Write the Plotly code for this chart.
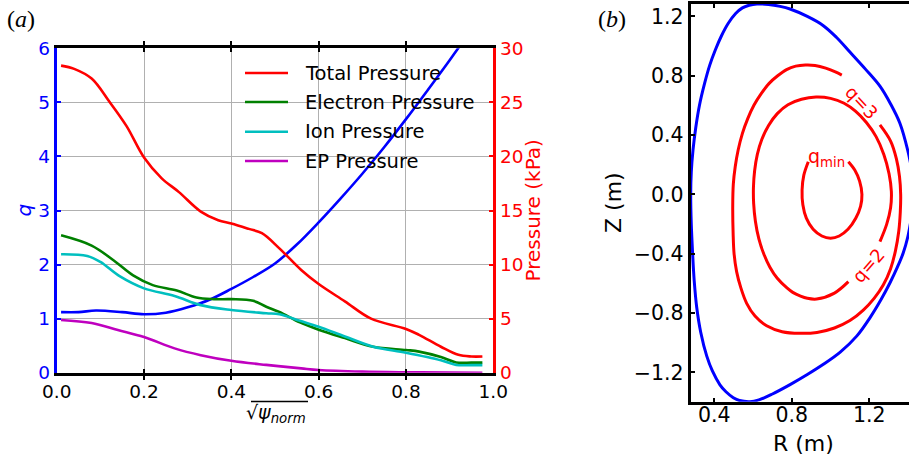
import plotly.graph_objects as go

# ---------------- Panel (a) data ----------------
rho_q = [0.01, 0.05, 0.09, 0.15, 0.20, 0.25, 0.30, 0.35, 0.40, 0.45, 0.50,
         0.55, 0.60, 0.65, 0.70, 0.75, 0.80, 0.85, 0.90, 0.95]
q_vals = [1.12, 1.12, 1.15, 1.12, 1.08, 1.11, 1.21, 1.35, 1.55, 1.77, 2.02,
          2.37, 2.78, 3.22, 3.68, 4.17, 4.69, 5.23, 5.78, 6.35]

rho_tot = [0.01, 0.04, 0.08, 0.12, 0.16, 0.20, 0.24, 0.28, 0.33, 0.37, 0.40,
           0.44, 0.47, 0.51, 0.56, 0.60, 0.66, 0.72, 0.80, 0.83, 0.88, 0.92,
           0.95, 0.975]
p_tot = [28.4, 28.1, 27.2, 25.1, 22.8, 19.9, 18.0, 16.7, 14.9, 14.1, 13.8,
         13.3, 12.9, 11.5, 9.5, 8.2, 6.6, 5.0, 4.05, 3.5, 2.4, 1.65, 1.5, 1.5]

rho_e = [0.01, 0.08, 0.13, 0.175, 0.22, 0.275, 0.32, 0.36, 0.40, 0.45, 0.48,
         0.51, 0.557, 0.60, 0.66, 0.725, 0.80, 0.83, 0.88, 0.915, 0.95, 0.975]
p_e = [12.7, 11.75, 10.4, 9.0, 8.1, 7.6, 6.95, 6.8, 6.8, 6.65, 6.1,
       5.62, 4.65, 3.98, 3.2, 2.4, 2.1, 1.95, 1.45, 0.95, 0.93, 0.93]

rho_i = [0.01, 0.07, 0.10, 0.145, 0.20, 0.27, 0.33, 0.40, 0.48, 0.51, 0.557,
         0.60, 0.66, 0.725, 0.80, 0.88, 0.915, 0.95, 0.975]
p_i = [10.95, 10.8, 10.25, 8.9, 7.8, 7.1, 6.25, 5.8, 5.5, 5.4, 4.8,
       4.25, 3.35, 2.4, 1.85, 1.15, 0.72, 0.7, 0.7]

rho_ep = [0.01, 0.08, 0.14, 0.20, 0.27, 0.33, 0.40, 0.48, 0.56, 0.60, 0.70,
          0.80, 0.90, 0.975]
p_ep = [4.88, 4.6, 3.95, 3.3, 2.25, 1.62, 1.1, 0.72, 0.4, 0.25, 0.1,
        0.04, 0.01, 0.0]

series_names = ["Total Pressure", "Electron Pressure", "Ion Pressure", "EP Pressure"]
series_colors = ["#ff0000", "#008000", "#00bfbf", "#bf00bf"]

x_ticks = [0.0, 0.2, 0.4, 0.6, 0.8, 1.0]
x_ticktext = ["0.0", "0.2", "0.4", "0.6", "0.8", "1.0"]
q_ticks = [0, 1, 2, 3, 4, 5, 6]
p_ticks = [0, 5, 10, 15, 20, 25, 30]

# ---------------- Panel (b) data ----------------
R_lcfs = [1.437, 1.418, 1.398, 1.375, 1.345, 1.307, 1.260, 1.204, 1.135, 1.050,
          0.963, 0.880, 0.791, 0.700, 0.630, 0.584, 0.530, 0.498, 0.460, 0.429,
          0.390, 0.361, 0.330, 0.309, 0.296, 0.288, 0.281, 0.278, 0.281, 0.290,
          0.304, 0.323, 0.350, 0.376, 0.405, 0.437, 0.472, 0.510, 0.545, 0.580,
          0.620, 0.680, 0.740, 0.791, 0.880, 0.963, 1.030, 1.100, 1.180, 1.255,
          1.310, 1.358, 1.398, 1.420, 1.437]
Z_lcfs = [0.02, -0.15, -0.29, -0.395, -0.49, -0.595, -0.71, -0.83, -0.955, -1.063,
          -1.145, -1.214, -1.282, -1.345, -1.385, -1.397, -1.389, -1.37, -1.33, -1.283,
          -1.19, -1.09, -0.93, -0.76, -0.58, -0.40, -0.20, 0.0, 0.15, 0.30,
          0.45, 0.60, 0.75, 0.87, 0.974, 1.07, 1.154, 1.22, 1.258, 1.276,
          1.284, 1.281, 1.268, 1.25, 1.20, 1.138, 1.06, 0.96, 0.845, 0.73,
          0.61, 0.48, 0.30, 0.16, 0.02]

R_q3 = [1.255, 1.310, 1.340, 1.356, 1.362, 1.360, 1.352, 1.335, 1.310, 1.272,
        1.225, 1.169, 1.100, 1.020, 0.930, 0.842, 0.750, 0.670, 0.610, 0.567,
        0.537, 0.515, 0.502, 0.497, 0.495, 0.498, 0.508, 0.523, 0.545, 0.572,
        0.605, 0.642, 0.683, 0.727, 0.773, 0.820, 0.870, 0.920, 0.975, 1.025, 1.058]
Z_q3 = [0.469, 0.360, 0.240, 0.120, 0.000, -0.120, -0.250, -0.380, -0.500, -0.610,
        -0.700, -0.779, -0.850, -0.900, -0.930, -0.936, -0.925, -0.885, -0.820, -0.734,
        -0.630, -0.520, -0.400, -0.260, -0.080, 0.070, 0.189, 0.300, 0.412, 0.510,
        0.603, 0.680, 0.749, 0.800, 0.842, 0.865, 0.873, 0.870, 0.852, 0.826, 0.805]

R_q2 = [1.092, 1.020, 0.928, 0.880, 0.845, 0.805, 0.775, 0.725, 0.687, 0.655,
        0.630, 0.612, 0.603, 0.602, 0.608, 0.622, 0.645, 0.680, 0.725, 0.780,
        0.850, 0.925, 1.000, 1.070, 1.130, 1.185, 1.235, 1.275, 1.302, 1.314,
        1.310, 1.290, 1.255]
Z_q2 = [-0.588, -0.665, -0.705, -0.700, -0.685, -0.660, -0.630, -0.565, -0.490, -0.400,
        -0.300, -0.180, -0.060, 0.050, 0.160, 0.270, 0.370, 0.465, 0.545, 0.605,
        0.642, 0.657, 0.648, 0.615, 0.560, 0.485, 0.390, 0.270, 0.140, 0.020,
        -0.090, -0.200, -0.318]

R_qmin = [1.092, 1.125, 1.150, 1.162, 1.155, 1.130, 1.090, 1.045, 1.000, 0.955,
          0.910, 0.875, 0.857, 0.853, 0.862, 0.885]
Z_qmin = [0.221, 0.165, 0.090, 0.000, -0.080, -0.160, -0.235, -0.280, -0.295, -0.280,
          -0.235, -0.160, -0.070, 0.030, 0.130, 0.221]

R_ticks = [0.4, 0.8, 1.2]
R_ticktext = ["0.4", "0.8", "1.2"]
Z_ticks = [-1.2, -0.8, -0.4, 0.0, 0.4, 0.8, 1.2]
Z_ticktext = ["\u22121.2", "\u22120.8", "\u22120.4", "0.0", "0.4", "0.8", "1.2"]

# ---------------- helpers (pixel -> paper) ----------------
W, H = 909, 456
def px(x):
    return x / W
def py(y):
    return 1 - y / H

fig = go.Figure()

fig.add_trace(go.Scatter(x=rho_q, y=q_vals, mode="lines", name="q",
                         line=dict(color="#0000ff", width=2.6, shape="spline"),
                         xaxis="x", yaxis="y"))
for xs, ys, nm, col in [(rho_tot, p_tot, series_names[0], series_colors[0]),
                        (rho_e, p_e, series_names[1], series_colors[1]),
                        (rho_i, p_i, series_names[2], series_colors[2]),
                        (rho_ep, p_ep, series_names[3], series_colors[3])]:
    fig.add_trace(go.Scatter(x=xs, y=ys, mode="lines", name=nm,
                             line=dict(color=col, width=2.6, shape="spline"),
                             xaxis="x", yaxis="y2"))

for Rs, Zs, nm, col in [(R_q3, Z_q3, "q=3", "#ff0000"),
                        (R_q2, Z_q2, "q=2", "#ff0000"),
                        (R_qmin, Z_qmin, "q_min", "#ff0000"),
                        (R_lcfs, Z_lcfs, "LCFS", "#0000ff")]:
    fig.add_trace(go.Scatter(x=Rs, y=Zs, mode="lines", name=nm,
                             line=dict(color=col, width=3, shape="spline", smoothing=1.0),
                             xaxis="x2", yaxis="y3"))

tick_font_a = dict(family="DejaVu Sans", size=18.5)
tick_font_b = dict(family="DejaVu Sans", size=20.5, color="black")

fig.update_layout(
    width=W, height=H, margin=dict(l=0, r=0, t=0, b=0, autoexpand=False),
    paper_bgcolor="white", plot_bgcolor="white", showlegend=False,
    font=dict(family="DejaVu Sans", color="black"),
    xaxis=dict(domain=[px(56.7), px(493.3)], range=[0, 1], anchor="y", automargin=False,
               tickvals=x_ticks, ticktext=x_ticktext, showgrid=True,
               gridcolor="#b0b0b0", gridwidth=1, zeroline=False,
               showline=True, linecolor="black", linewidth=3, mirror="allticks",
               ticks="inside", ticklen=4, tickwidth=2, tickcolor="black",
               ticklabelstandoff=0,
               tickfont=dict(tick_font_a, color="black")),
    yaxis=dict(domain=[py(372.7), py(48.3)], range=[0, 6], anchor="x", automargin=False,
               tickvals=q_ticks, showgrid=True, gridcolor="#b0b0b0", gridwidth=1,
               zeroline=False, showline=True, linecolor="#0000ff", linewidth=3,
               ticks="inside", ticklen=4, tickwidth=2, tickcolor="#0000ff",
               tickfont=dict(tick_font_a, color="#0000ff")),
    yaxis2=dict(overlaying="y", side="right", range=[0, 30], anchor="x", automargin=False,
                tickvals=p_ticks, showgrid=False, zeroline=False,
                showline=True, linecolor="#ff0000", linewidth=3,
                ticks="inside", ticklen=4, tickwidth=2, tickcolor="#ff0000",
                tickfont=dict(tick_font_a, color="#ff0000")),
    xaxis2=dict(domain=[px(690.7), 1.0], range=[0.278, 1.405], anchor="y3", automargin=False,
                tickvals=R_ticks, ticktext=R_ticktext, showgrid=False, zeroline=False,
                showline=True, linecolor="black", linewidth=3, mirror="allticks",
                ticks="inside", ticklen=4, tickwidth=2, tickcolor="black",
                ticklabelstandoff=-7,
                tickfont=tick_font_b),
    yaxis3=dict(domain=[py(401.7), py(4)], range=[-1.397, 1.284], anchor="x2", automargin=False,
                tickvals=Z_ticks, ticktext=Z_ticktext, showgrid=False, zeroline=False,
                showline=True, linecolor="black", linewidth=3,
                ticks="inside", ticklen=4, tickwidth=2, tickcolor="black",
                tickfont=tick_font_b),
)

ann = []
shapes = []
# panel labels
ann.append(dict(x=px(21), y=py(19), xref="paper", yref="paper", text="(<i>a</i>)",
                showarrow=False, font=dict(family="Liberation Serif", size=24, color="black"),
                xanchor="center", yanchor="middle"))
ann.append(dict(x=px(612), y=py(19), xref="paper", yref="paper", text="(<i>b</i>)",
                showarrow=False, font=dict(family="Liberation Serif", size=24, color="black"),
                xanchor="center", yanchor="middle"))
# axis titles
ann.append(dict(x=px(23), y=py(210.5), xref="paper", yref="paper", text="<i>q</i>",
                showarrow=False, textangle=-90, font=dict(size=20, color="#0000ff"),
                xanchor="center", yanchor="middle"))
ann.append(dict(x=px(532), y=py(210.5), xref="paper", yref="paper", text="Pressure (kPa)",
                showarrow=False, textangle=-90, font=dict(size=20, color="#ff0000"),
                xanchor="center", yanchor="middle"))
ann.append(dict(x=px(276), y=py(413), xref="paper", yref="paper",
                text="\u221a<i>\u03c8</i><sub><i>norm</i></sub>",
                showarrow=False, font=dict(size=19, color="black"),
                xanchor="center", yanchor="middle"))
shapes.append(dict(type="line", xref="paper", yref="paper", x0=px(251), x1=px(308),
                   y0=py(401.5), y1=py(401.5), line=dict(color="black", width=1.5)))
ann.append(dict(x=px(613), y=py(203), xref="paper", yref="paper", text="Z (m)",
                showarrow=False, textangle=-90, font=dict(size=22, color="black"),
                xanchor="center", yanchor="middle"))
ann.append(dict(x=px(803), y=py(443), xref="paper", yref="paper", text="R (m)",
                showarrow=False, font=dict(size=22, color="black"),
                xanchor="center", yanchor="middle"))
# contour labels
ann.append(dict(x=px(862), y=py(102), xref="paper", yref="paper", text="q=3",
                showarrow=False, textangle=47, font=dict(size=18, color="#ff0000"),
                xanchor="center", yanchor="middle"))
ann.append(dict(x=px(868), y=py(265), xref="paper", yref="paper", text="q=2",
                showarrow=False, textangle=-49, font=dict(size=18, color="#ff0000"),
                xanchor="center", yanchor="middle"))
ann.append(dict(x=px(826), y=py(157), xref="paper", yref="paper", text="q<sub>min</sub>",
                showarrow=False, font=dict(size=19, color="#ff0000"),
                xanchor="center", yanchor="middle"))
# legend
legend_rows = [73, 102, 131.7, 161]
for nm, col, yy in zip(series_names, series_colors, legend_rows):
    shapes.append(dict(type="line", xref="paper", yref="paper", x0=px(245), x1=px(288),
                       y0=py(yy), y1=py(yy), line=dict(color=col, width=2.6)))
    ann.append(dict(x=px(303), y=py(yy), xref="paper", yref="paper", text=nm,
                    showarrow=False, font=dict(size=19.5, color="black"),
                    xanchor="left", yanchor="middle"))

fig.update_layout(annotations=ann, shapes=shapes)
fig.write_html("out.html")
